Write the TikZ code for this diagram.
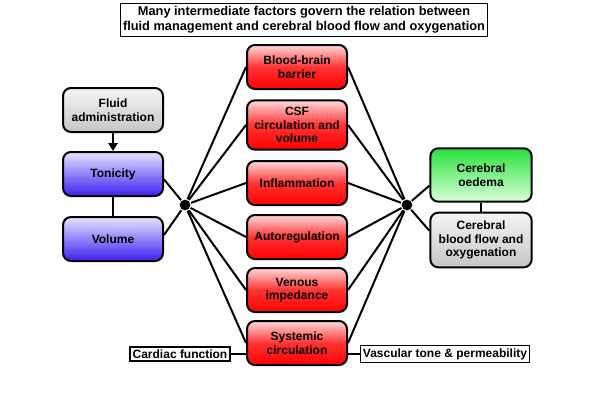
\documentclass[tikz,border=0pt]{standalone}
\usepackage{fontspec}
\setmainfont{Liberation Sans}
\usetikzlibrary{arrows.meta}

\definecolor{bluebot}{RGB}{60,30,240}
\definecolor{greentop}{RGB}{40,225,60}

\begin{document}
\begin{tikzpicture}[x=0.75pt, y=-0.75pt, line width=1.5pt,
  font=\fontsize{9}{10.3}\selectfont\bfseries,
  box/.style={draw, rounded corners=6pt, align=center, inner sep=2pt,
    minimum width=75pt, minimum height=33pt},
  greybox/.style={box, top color=gray!8, bottom color=gray!45},
  bluebox/.style={box, top color=blue!10, bottom color=bluebot},
  redbox/.style={box, top color=red!15, bottom color=red, middle color=red!80},
  greenbox/.style={box, minimum width=76pt, minimum height=40pt,
    top color=greentop, bottom color=green!15},
  labelbox/.style={draw, line width=1pt, inner sep=2pt, align=center},
  hub/.style={circle, fill=black, inner sep=0pt, minimum size=8pt}]
  \useasboundingbox (0,0) rectangle (611,400);

  \node[labelbox, font=\fontsize{9.6}{11.5}\selectfont\bfseries] (title) at (304,20)
    {Many intermediate factors govern the relation between\\fluid management and cerebral blood flow and oxygenation};

  % fluid side
  \node[greybox] (fluid) at (113,110) {Fluid\\administration};
  \node[bluebox] (ton) at (113,174) {Tonicity};
  \node[bluebox] (vol) at (113,239) {Volume};
  \node[hub] (hl) at (185,205) {};

  % intermediate factors
  \node[redbox] (bbb) at (297,67) {Blood-brain\\barrier};
  \node[redbox, minimum height=37pt] (csf) at (297,125) {CSF\\circulation and\\volume};
  \node[redbox] (infl) at (297,183) {Inflammation};
  \node[redbox] (auto) at (297,237) {Autoregulation};
  \node[redbox] (ven) at (297,290) {Venous\\impedance};
  \node[redbox] (sys) at (297,343) {Systemic\\circulation};

  % brain side
  \node[hub] (hr) at (407,205) {};
  \node[greenbox] (oed) at (481,175) {Cerebral\\oedema};
  \node[greybox, minimum width=76pt, minimum height=41pt] (cbf) at (481,240)
    {Cerebral\\blood flow and\\oxygenation};

  \node[labelbox, minimum width=75pt] (card) at (180,354) {Cardiac function};
  \node[labelbox] (vasc) at (445,354) {Vascular tone \& permeability};

  \draw[-{Triangle[length=6pt,width=7pt]}] (fluid) -- (ton);
  \draw (ton) -- (vol);
  \draw (oed) -- (cbf);
  \draw ([yshift=-4pt]ton.east) -- (hl);
  \draw ([yshift=3pt]vol.east) -- (hl);
  \draw ([yshift=-8pt]oed.west) -- (hr);
  \draw ([yshift=7pt]cbf.west) -- (hr);
  \foreach \f in {bbb,csf,infl,auto,ven,sys} {
    \draw (hl) -- (\f.west);
    \draw (hr) -- (\f.east);
  }
  \draw (card.east) -- (card.east -| sys.west);
  \draw (vasc.west) -- (vasc.west -| sys.east);
\end{tikzpicture}
\end{document}
